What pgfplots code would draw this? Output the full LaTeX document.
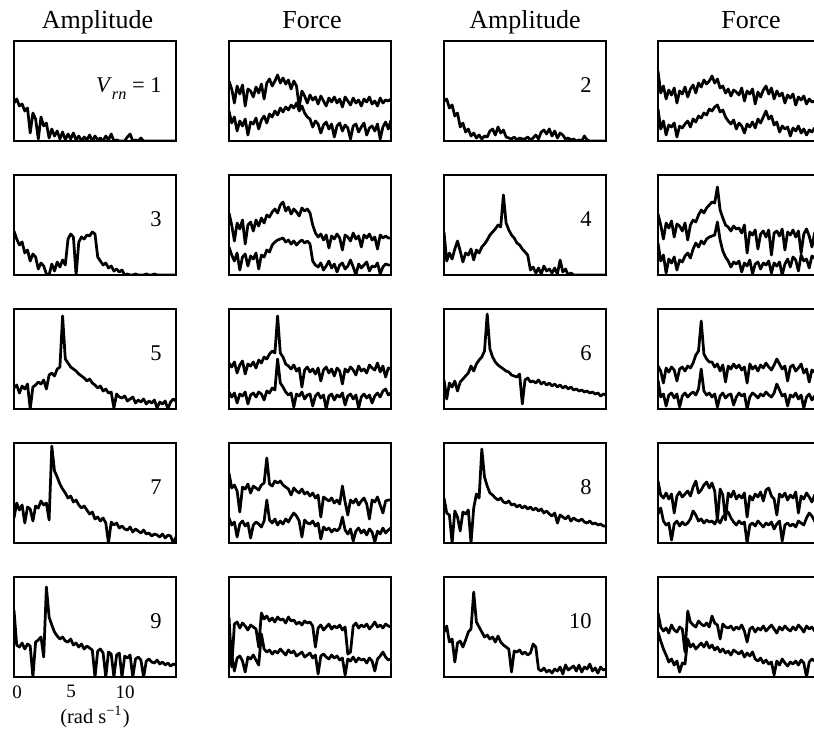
\documentclass[border=0pt]{standalone}
\usepackage{fontspec}
\setmainfont{Liberation Serif}
\usepackage{pgfplots}
\pgfplotsset{compat=1.18}

% 1 px of the reference = 0.4pt
\pgfplotsset{
  pan/.style={width=64.8pt, height=40pt, scale only axis, anchor=north west,
    xmin=0, xmax=15, ymin=0, ymax=100, xtick=\empty, ytick=\empty,
    axis line style={line width=0.75pt}},
  spec/.style={black, line width=1.1pt, mark=none, line join=round},
}
% one spectrum, sampled every 0.25 rad/s from 0 to 15
\newcommand{\sdat}[1]{\addplot[spec] table[header=false, row sep=\\, x expr=\coordindex*0.25, y index=0]{#1};}
\newcommand{\vrn}[1]{\node[anchor=base east, inner sep=0pt, font=\fontsize{9}{10}\selectfont] at (rel axis cs:0.914,0.49) {#1};}

\begin{document}
\begin{tikzpicture}
\tikzset{ttl/.style={anchor=base, inner sep=0pt, font=\fontsize{10.4}{12}\selectfont}}
\node[ttl] at (39pt,-11.2pt) {Amplitude};
\node[ttl] at (124.8pt,-11.2pt) {Force};
\node[ttl] at (210pt,-11.2pt) {Amplitude};
\node[ttl] at (300.4pt,-11.2pt) {Force};

% ---------------- row 1 ----------------
\begin{axis}[pan, at={(5.6pt,-16.4pt)}]
\sdat{38\\42\\35\\37\\30\\33\\8\\28\\22\\2\\24\\15\\18\\3\\12\\5\\10\\2\\9\\1\\7\\2\\8\\1\\5\\0\\4\\1\\6\\0\\5\\1\\3\\0\\5\\1\\7\\0\\1\\0\\0\\0\\4\\7\\0\\1\\0\\3\\0\\0\\0\\0\\0\\0\\0\\0\\0\\0\\0\\0\\0\\}
\vrn{\textit{V}\raisebox{-0.35em}{\fontsize{6.5}{7}\selectfont\textit{rn}} = 1}
\end{axis}
\begin{axis}[pan, at={(91.6pt,-16.4pt)}]
\sdat{60\\52\\38\\55\\47\\56\\35\\52\\50\\44\\54\\48\\57\\42\\58\\62\\55\\60\\66\\58\\63\\57\\61\\52\\60\\55\\34\\50\\45\\38\\46\\41\\44\\37\\45\\40\\35\\43\\39\\44\\38\\42\\34\\44\\40\\36\\43\\38\\41\\35\\42\\39\\44\\37\\40\\35\\43\\38\\41\\40\\42\\}
\sdat{30\\18\\24\\10\\20\\15\\22\\6\\19\\17\\23\\12\\21\\25\\18\\27\\24\\30\\26\\33\\29\\34\\31\\36\\33\\38\\30\\35\\28\\24\\22\\14\\20\\17\\8\\16\\19\\12\\17\\4\\15\\18\\10\\16\\13\\2\\15\\17\\9\\14\\18\\6\\13\\15\\10\\17\\2\\14\\19\\12\\21\\}
\end{axis}
\begin{axis}[pan, at={(177.6pt,-16.4pt)}]
\sdat{40\\42\\33\\36\\25\\28\\14\\18\\9\\12\\5\\8\\3\\6\\2\\5\\4\\10\\12\\6\\14\\8\\11\\4\\3\\2\\4\\1\\3\\2\\2\\4\\1\\3\\6\\2\\9\\11\\7\\12\\5\\10\\3\\8\\6\\2\\3\\1\\2\\0\\1\\0\\5\\1\\0\\0\\0\\0\\0\\0\\0\\}
\vrn{2}
\end{axis}
\begin{axis}[pan, at={(263.2pt,-16.4pt)}]
\sdat{70\\48\\55\\42\\51\\46\\53\\38\\50\\47\\54\\44\\52\\56\\48\\58\\54\\61\\57\\60\\65\\58\\62\\53\\55\\48\\52\\45\\51\\49\\46\\53\\40\\50\\47\\52\\37\\49\\44\\51\\55\\47\\53\\42\\50\\45\\48\\38\\46\\43\\47\\36\\44\\41\\45\\37\\42\\39\\40\\38\\40\\}
\sdat{32\\12\\20\\6\\16\\14\\18\\4\\15\\13\\17\\20\\14\\22\\19\\25\\23\\28\\26\\32\\30\\34\\36\\29\\31\\24\\20\\17\\21\\12\\18\\15\\8\\17\\14\\19\\13\\22\\18\\24\\30\\22\\25\\16\\19\\9\\15\\12\\14\\5\\13\\10\\15\\8\\12\\6\\11\\9\\13\\10\\11\\}
\end{axis}

% ---------------- row 2 ----------------
\begin{axis}[pan, at={(5.6pt,-70pt)}]
\sdat{44\\36\\30\\33\\22\\25\\14\\21\\18\\6\\12\\9\\1\\0\\11\\4\\13\\8\\15\\10\\36\\41\\38\\0\\33\\38\\36\\40\\39\\43\\41\\18\\14\\10\\12\\7\\9\\4\\6\\3\\5\\0\\1\\0\\0\\1\\0\\0\\0\\1\\0\\0\\1\\0\\0\\0\\0\\0\\0\\0\\0\\}
\vrn{3}
\end{axis}
\begin{axis}[pan, at={(91.6pt,-70pt)}]
\sdat{62\\50\\34\\52\\46\\55\\31\\50\\53\\44\\55\\49\\57\\52\\60\\58\\63\\66\\62\\70\\73\\64\\68\\61\\66\\63\\59\\67\\64\\66\\62\\50\\42\\38\\41\\35\\40\\27\\39\\36\\41\\37\\25\\40\\38\\34\\42\\36\\39\\28\\40\\37\\41\\35\\38\\26\\40\\37\\39\\37\\37\\}
\sdat{28\\20\\14\\22\\5\\18\\21\\9\\19\\16\\22\\6\\20\\18\\25\\23\\30\\33\\35\\36\\37\\33\\35\\31\\34\\30\\33\\35\\32\\34\\31\\14\\10\\8\\12\\5\\9\\14\\7\\11\\3\\10\\12\\6\\9\\15\\8\\0\\11\\7\\10\\13\\4\\9\\8\\12\\1\\8\\11\\10\\10\\}
\end{axis}
\begin{axis}[pan, at={(177.6pt,-70pt)}]
\sdat{43\\14\\22\\16\\26\\34\\24\\13\\22\\20\\26\\15\\25\\22\\28\\31\\35\\40\\43\\46\\50\\48\\80\\52\\45\\40\\37\\32\\30\\26\\23\\20\\5\\8\\2\\7\\1\\9\\4\\6\\2\\7\\1\\15\\3\\6\\0\\2\\0\\0\\0\\0\\0\\0\\0\\0\\0\\0\\0\\0\\0\\}
\vrn{4}
\end{axis}
\begin{axis}[pan, at={(263.2pt,-70pt)}]
\sdat{61\\50\\36\\52\\47\\54\\38\\51\\49\\44\\52\\35\\50\\55\\53\\60\\65\\62\\67\\70\\73\\72\\88\\65\\57\\50\\48\\44\\49\\46\\47\\42\\50\\22\\43\\40\\45\\26\\41\\44\\38\\45\\20\\42\\44\\39\\46\\25\\43\\40\\45\\38\\44\\22\\41\\46\\39\\28\\42\\43\\40\\}
\sdat{32\\14\\20\\2\\16\\12\\18\\5\\15\\13\\19\\22\\17\\26\\32\\28\\34\\31\\36\\38\\39\\40\\53\\35\\24\\18\\14\\8\\13\\11\\14\\3\\12\\9\\15\\1\\11\\13\\6\\12\\10\\14\\2\\12\\9\\13\\0\\11\\16\\8\\18\\15\\4\\20\\14\\16\\7\\19\\17\\12\\14\\}
\end{axis}

% ---------------- row 3 ----------------
\begin{axis}[pan, at={(5.6pt,-123.6pt)}]
\sdat{21\\24\\16\\23\\20\\25\\0\\22\\24\\27\\25\\29\\20\\34\\36\\33\\40\\42\\93\\50\\46\\42\\40\\38\\35\\33\\31\\28\\30\\26\\24\\21\\23\\18\\20\\16\\17\\1\\15\\12\\11\\13\\8\\10\\12\\6\\9\\7\\10\\5\\8\\6\\9\\1\\7\\5\\8\\0\\7\\10\\8\\}
\vrn{5}
\end{axis}
\begin{axis}[pan, at={(91.6pt,-123.6pt)}]
\sdat{46\\42\\47\\36\\44\\48\\35\\45\\43\\47\\41\\49\\46\\52\\50\\55\\58\\56\\93\\56\\52\\45\\43\\40\\44\\38\\41\\22\\39\\42\\37\\40\\35\\41\\28\\39\\42\\36\\40\\33\\41\\38\\25\\40\\37\\42\\39\\34\\43\\38\\40\\36\\44\\41\\39\\46\\37\\43\\32\\41\\40\\}
\sdat{17\\12\\16\\6\\15\\13\\17\\5\\14\\16\\12\\17\\15\\9\\18\\16\\21\\19\\50\\26\\22\\17\\14\\16\\2\\15\\13\\17\\10\\14\\15\\3\\13\\16\\11\\14\\0\\13\\15\\9\\14\\12\\16\\4\\13\\15\\10\\14\\1\\12\\15\\11\\14\\6\\13\\16\\12\\18\\20\\14\\16\\}
\end{axis}
\begin{axis}[pan, at={(177.6pt,-123.6pt)}]
\sdat{29\\10\\26\\22\\28\\18\\27\\30\\33\\36\\43\\38\\45\\49\\52\\58\\95\\60\\52\\47\\44\\42\\40\\38\\37\\34\\33\\32\\35\\5\\29\\31\\27\\28\\26\\29\\25\\27\\24\\26\\23\\25\\22\\24\\21\\23\\20\\22\\19\\20\\18\\19\\17\\18\\16\\17\\15\\16\\13\\15\\14\\}
\vrn{6}
\end{axis}
\begin{axis}[pan, at={(263.2pt,-123.6pt)}]
\sdat{43\\38\\26\\41\\37\\42\\39\\28\\40\\42\\38\\43\\41\\46\\54\\58\\88\\55\\50\\47\\47\\42\\45\\38\\44\\27\\43\\40\\45\\41\\44\\39\\42\\26\\45\\40\\43\\38\\44\\41\\46\\42\\39\\44\\50\\45\\40\\43\\28\\42\\44\\38\\41\\45\\36\\40\\27\\39\\37\\35\\38\\}
\sdat{29\\12\\15\\3\\14\\16\\11\\15\\2\\13\\16\\12\\15\\17\\14\\20\\40\\18\\14\\16\\12\\15\\2\\13\\16\\11\\14\\15\\4\\12\\16\\13\\15\\0\\12\\16\\14\\11\\15\\13\\17\\14\\12\\16\\25\\19\\13\\15\\3\\14\\12\\16\\10\\14\\1\\12\\15\\9\\13\\11\\12\\}
\end{axis}

% ---------------- row 4 ----------------
\begin{axis}[pan, at={(5.6pt,-177.2pt)}]
\sdat{25\\40\\33\\38\\20\\36\\34\\22\\37\\35\\42\\38\\40\\23\\97\\72\\66\\59\\54\\50\\45\\47\\41\\43\\38\\35\\37\\33\\29\\31\\24\\26\\22\\25\\20\\0\\21\\18\\20\\15\\17\\14\\13\\16\\11\\14\\12\\10\\13\\9\\10\\7\\9\\8\\6\\9\\5\\8\\7\\0\\6\\}
\vrn{7}
\end{axis}
\begin{axis}[pan, at={(91.6pt,-177.2pt)}]
\sdat{70\\55\\58\\52\\31\\56\\54\\59\\50\\57\\55\\53\\58\\60\\85\\59\\57\\62\\60\\62\\58\\56\\54\\48\\55\\52\\50\\54\\49\\51\\47\\50\\45\\48\\26\\46\\44\\42\\45\\40\\43\\39\\57\\41\\28\\43\\40\\44\\38\\42\\45\\39\\24\\43\\41\\46\\38\\30\\42\\43\\43\\}
\sdat{25\\18\\21\\6\\19\\22\\17\\20\\5\\18\\21\\19\\16\\22\\43\\23\\20\\24\\18\\22\\19\\24\\21\\26\\30\\27\\22\\6\\23\\20\\19\\22\\17\\20\\4\\16\\13\\15\\11\\14\\12\\15\\26\\13\\9\\14\\2\\12\\15\\10\\13\\8\\14\\11\\1\\12\\9\\15\\10\\13\\15\\}
\end{axis}
\begin{axis}[pan, at={(177.6pt,-177.2pt)}]
\sdat{45\\30\\28\\0\\32\\26\\12\\31\\29\\33\\0\\35\\49\\45\\94\\66\\57\\50\\48\\45\\43\\45\\41\\40\\42\\38\\39\\36\\38\\35\\37\\34\\36\\33\\35\\32\\34\\30\\32\\29\\27\\30\\20\\28\\26\\24\\27\\22\\25\\23\\22\\24\\21\\20\\22\\19\\20\\18\\19\\17\\17\\}
\vrn{8}
\end{axis}
\begin{axis}[pan, at={(263.2pt,-177.2pt)}]
\sdat{62\\48\\45\\50\\44\\49\\30\\47\\51\\46\\49\\52\\47\\56\\62\\50\\53\\58\\61\\55\\60\\52\\22\\54\\48\\23\\50\\46\\52\\44\\48\\45\\50\\26\\47\\43\\49\\46\\51\\42\\53\\55\\47\\44\\28\\49\\46\\50\\43\\48\\45\\51\\30\\47\\44\\50\\46\\41\\48\\45\\45\\}
\sdat{29\\35\\22\\18\\20\\3\\19\\22\\17\\21\\18\\20\\24\\32\\28\\22\\24\\20\\23\\21\\22\\19\\24\\20\\26\\29\\31\\25\\21\\18\\22\\19\\21\\0\\18\\20\\17\\22\\19\\16\\20\\18\\21\\14\\19\\22\\2\\18\\20\\17\\19\\16\\22\\20\\18\\25\\30\\27\\22\\20\\22\\}
\end{axis}

% ---------------- row 5 ----------------
\begin{axis}[pan, at={(5.6pt,-230.8pt)},
  xtick={0,5,10}, xticklabels={0,5,10}, major tick length=0pt,
  xticklabel style={font=\fontsize{7.6}{8}\selectfont, inner sep=0pt, yshift=-3.2pt, xshift=1.2pt},
  xlabel={(rad s\textsuperscript{−1})},
  xlabel style={at={(axis description cs:0.5,0)}, anchor=base, inner sep=0pt,
    yshift=-18.4pt, font=\fontsize{8.2}{9}\selectfont}]
\sdat{67\\32\\30\\34\\28\\33\\31\\0\\35\\37\\40\\20\\90\\60\\52\\45\\41\\38\\40\\36\\35\\38\\32\\34\\30\\33\\28\\31\\29\\27\\0\\26\\28\\24\\0\\25\\23\\0\\22\\24\\0\\21\\19\\22\\0\\18\\20\\17\\0\\16\\18\\15\\14\\17\\13\\15\\12\\14\\11\\13\\12\\}
\vrn{9}
\end{axis}
\begin{axis}[pan, at={(91.6pt,-230.8pt)}]
\sdat{60\\10\\53\\55\\49\\54\\51\\47\\52\\50\\48\\30\\64\\58\\61\\56\\59\\55\\60\\57\\58\\54\\60\\56\\57\\53\\55\\52\\56\\54\\55\\51\\30\\49\\52\\47\\50\\53\\48\\51\\49\\52\\47\\50\\23\\25\\51\\54\\49\\52\\50\\53\\48\\51\\55\\50\\52\\49\\53\\51\\50\\}
\sdat{13\\22\\6\\19\\21\\16\\5\\20\\18\\22\\17\\12\\43\\28\\25\\27\\23\\26\\24\\28\\25\\22\\27\\24\\26\\21\\23\\25\\20\\22\\24\\19\\22\\3\\21\\23\\20\\18\\22\\19\\21\\17\\19\\2\\18\\16\\20\\15\\19\\17\\18\\14\\19\\16\\6\\18\\21\\25\\20\\17\\18\\}
\end{axis}
\begin{axis}[pan, at={(177.6pt,-230.8pt)}]
\sdat{45\\51\\35\\38\\15\\34\\36\\30\\37\\45\\48\\85\\55\\50\\45\\40\\42\\38\\40\\35\\41\\35\\32\\30\\28\\5\\26\\25\\27\\23\\25\\22\\24\\33\\30\\8\\6\\9\\5\\7\\4\\8\\6\\10\\3\\12\\7\\9\\11\\6\\12\\5\\10\\8\\13\\6\\9\\4\\10\\7\\8\\}
\vrn{10}
\end{axis}
\begin{axis}[pan, at={(263.2pt,-230.8pt)}]
\sdat{64\\50\\46\\49\\44\\52\\47\\45\\50\\48\\25\\66\\55\\52\\50\\56\\53\\51\\54\\50\\61\\54\\52\\38\\53\\50\\49\\51\\47\\50\\48\\52\\46\\35\\48\\50\\45\\49\\47\\51\\46\\49\\52\\48\\44\\50\\47\\51\\48\\46\\50\\47\\52\\49\\45\\51\\48\\50\\46\\49\\48\\}
\sdat{45\\36\\28\\22\\15\\18\\12\\16\\5\\14\\13\\38\\30\\33\\28\\31\\34\\30\\35\\29\\32\\27\\30\\25\\28\\24\\26\\22\\27\\25\\23\\26\\20\\24\\21\\25\\18\\16\\19\\14\\17\\13\\15\\2\\16\\12\\18\\14\\11\\15\\13\\16\\12\\17\\14\\0\\15\\18\\16\\20\\20\\}
\end{axis}

\pgfresetboundingbox
\useasboundingbox (0,0) rectangle (325.6pt,-292pt);
\end{tikzpicture}
\end{document}
